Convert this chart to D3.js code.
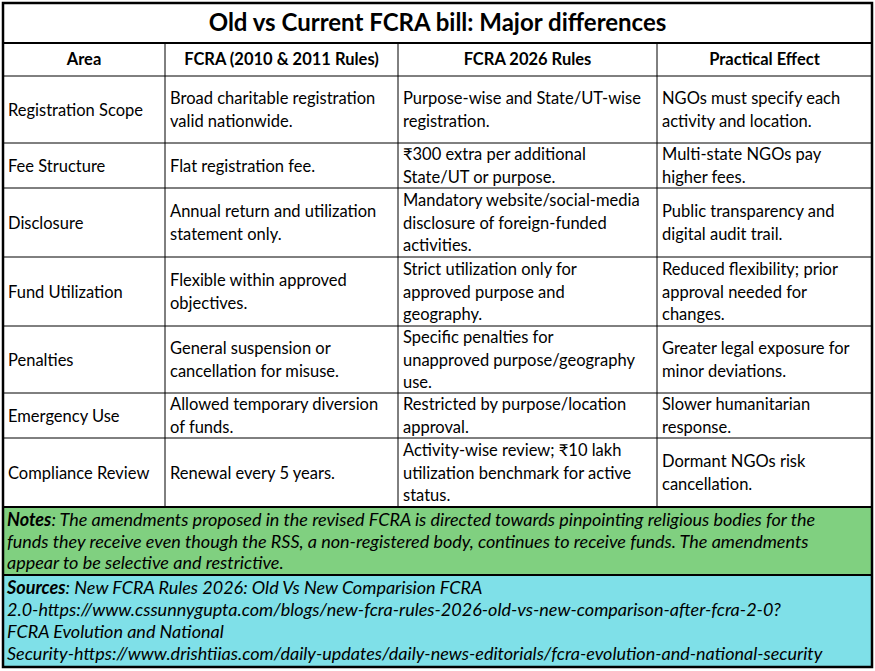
<!DOCTYPE html>
<html><head><meta charset="utf-8">
<script src="https://cdn.jsdelivr.net/npm/d3@7"></script>
<style>body{margin:0;background:#fff}svg{font-family:Lato,"Open Sans",sans-serif}</style>
</head><body><svg></svg>
<script>
const width = 875, height = 671;
const title = "Old vs Current FCRA bill: Major differences";
const headers = ["Area", "FCRA (2010 & 2011 Rules)", "FCRA 2026 Rules", "Practical Effect"];
const areas = ["Registration Scope", "Fee Structure", "Disclosure", "Fund Utilization", "Penalties", "Emergency Use", "Compliance Review"];
const oldRules = [
  ["Broad charitable registration", "valid nationwide."],
  ["Flat registration fee."],
  ["Annual return and utilization", "statement only."],
  ["Flexible within approved", "objectives."],
  ["General suspension or", "cancellation for misuse."],
  ["Allowed temporary diversion", "of funds."],
  ["Renewal every 5 years."]
];
const newRules = [
  ["Purpose-wise and State/UT-wise", "registration."],
  ["₹300 extra per additional", "State/UT or purpose."],
  ["Mandatory website/social-media", "disclosure of foreign-funded", "activities."],
  ["Strict utilization only for", "approved purpose and", "geography."],
  ["Specific penalties for", "unapproved purpose/geography", "use."],
  ["Restricted by purpose/location", "approval."],
  ["Activity-wise review; ₹10 lakh", "utilization benchmark for active", "status."]
];
const effects = [
  ["NGOs must specify each", "activity and location."],
  ["Multi-state NGOs pay", "higher fees."],
  ["Public transparency and", "digital audit trail."],
  ["Reduced flexibility; prior", "approval needed for", "changes."],
  ["Greater legal exposure for", "minor deviations."],
  ["Slower humanitarian", "response."],
  ["Dormant NGOs risk", "cancellation."]
];
const notes = ["The amendments proposed in the revised FCRA is directed towards pinpointing religious bodies for the",
  "funds they receive even though the RSS, a non-registered body, continues to receive funds.  The amendments",
  "appear to be selective and restrictive."];
const sources = ["New FCRA Rules 2026: Old Vs New Comparision FCRA",
  "2.0-https://www.cssunnygupta.com/blogs/new-fcra-rules-2026-old-vs-new-comparison-after-fcra-2-0?",
  "FCRA Evolution and National",
  "Security-https://www.drishtiias.com/daily-updates/daily-news-editorials/fcra-evolution-and-national-security"];

const colEdges = [3, 165, 398, 657, 872];
const rowEdges = [76, 143, 188, 257, 326, 393, 438, 507];
const lh = 22.5, fs = 16.5;
const svg = d3.select("svg").attr("width", width).attr("height", height);

// shaded notes and sources bands
svg.append("rect").attr("x", 3).attr("y", 507).attr("width", 869).attr("height", 68).attr("fill", "#80d080");
svg.append("rect").attr("x", 3).attr("y", 575).attr("width", 869).attr("height", 92).attr("fill", "#7fe0e8");

svg.append("text").text(title).attr("x", width / 2).attr("y", 31)
  .attr("text-anchor", "middle").style("font-size", "24px").style("font-weight", "bold");

headers.forEach((h, i) => {
  svg.append("text").text(h).attr("x", (colEdges[i] + colEdges[i + 1]) / 2).attr("y", 65)
    .attr("text-anchor", "middle").style("font-size", "16.5px").style("font-weight", "bold");
});

const cols = [areas.map(a => [a]), oldRules, newRules, effects];
cols.forEach((col, c) => {
  col.forEach((lines, r) => {
    const mid = (rowEdges[r] + rowEdges[r + 1]) / 2;
    const y0 = mid - (lines.length - 1) * lh / 2 + 6;
    const t = svg.append("text").style("font-size", fs + "px");
    lines.forEach((l, k) => t.append("tspan").attr("x", colEdges[c] + 5).attr("y", y0 + k * lh).text(l));
  });
});

function block(label, lines, top, step) {
  const t = svg.append("text").style("font-size", "18px").style("font-style", "italic");
  lines.forEach((l, k) => {
    const ts = t.append("tspan").attr("x", 7).attr("y", top + 19 + k * step);
    if (k === 0) {
      ts.append("tspan").text(label).style("font-weight", "bold");
      ts.append("tspan").text(": " + (label === "Notes" ? " " : "") + l);
    } else ts.text(l);
  });
}
block("Notes", notes, 507, 21.5);
block("Sources", sources, 575, 22);

// grid lines
const g = svg.append("g").attr("stroke", "#000");
rowEdges.slice(0, -1).forEach(y => g.append("line").attr("x1", 3).attr("x2", 872).attr("y1", y).attr("y2", y).attr("stroke-width", 1));
colEdges.slice(1, -1).forEach(x => g.append("line").attr("x1", x).attr("x2", x).attr("y1", 43).attr("y2", 507).attr("stroke-width", 1));
[43, 507, 575].forEach(y => g.append("line").attr("x1", 3).attr("x2", 872).attr("y1", y).attr("y2", y).attr("stroke-width", 2));
g.append("rect").attr("x", 3).attr("y", 3).attr("width", 869).attr("height", 664).attr("fill", "none").attr("stroke-width", 2.5);
</script></body></html>
